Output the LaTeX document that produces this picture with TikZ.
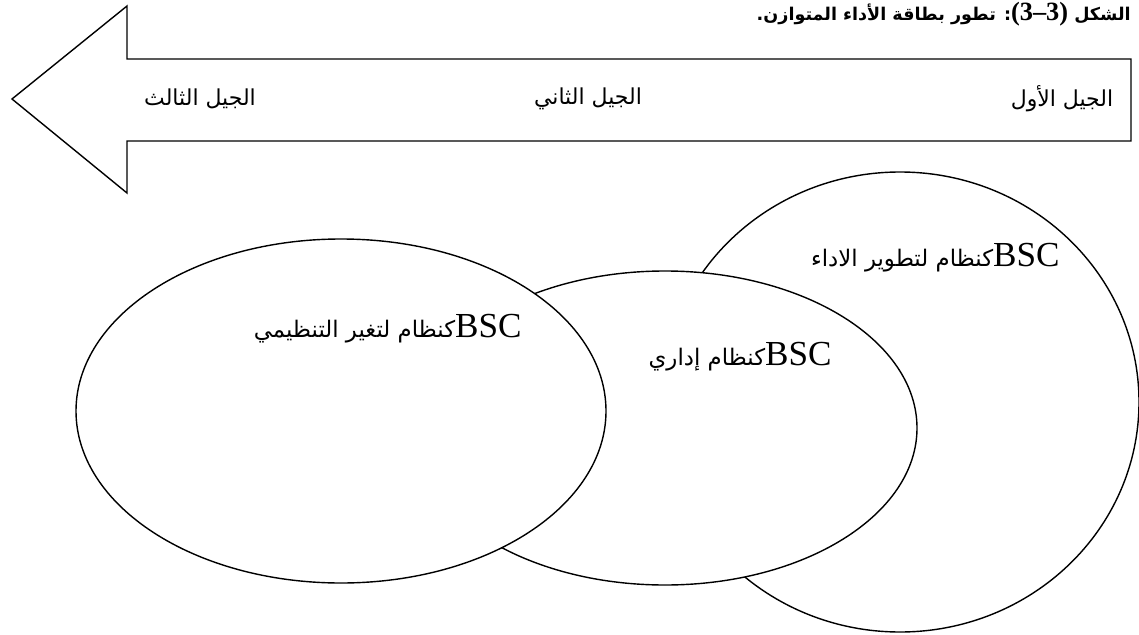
\documentclass[tikz,border=0pt]{standalone}
\usepackage{fontspec}
\newfontfamily\arabicfont[Script=Arabic]{DejaVu Sans}
\newfontfamily\latinfont{Liberation Serif}
\TeXXeTstate=1
\begin{document}
\begin{tikzpicture}[x=0.02cm,y=-0.02cm,
  gentext/.style={font=\arabicfont\fontsize{12.5}{14}\selectfont, inner sep=0pt},
  bsctext/.style={font=\arabicfont\fontsize{13}{15}\selectfont, inner sep=0pt, anchor=base east},
  zone/.style={draw, fill=white, line width=0.8pt}]
\useasboundingbox (0,0) rectangle (1139,635);
\node[font=\arabicfont\bfseries\fontsize{10}{12}\selectfont, inner sep=0pt, anchor=base east] (title) at (1131,21) {\beginR الشكل \beginL{\latinfont\bfseries\fontsize{15}{16}\selectfont(3–3)}\endL: تطور بطاقة الأداء المتوازن\kern0pt.\endR};
% the arrow of generations
\draw[line width=0.8pt] (1131,59) -- (127,59) -- (127,6) -- (12,99) -- (127,193) -- (127,141) -- (1131,141) -- cycle;
\node[gentext] (g1) at (1062,99) {\beginR الجيل الأول\endR};
\node[gentext] (g2) at (588,99) {\beginR الجيل الثاني\endR};
\node[gentext] (g3) at (200,99) {\beginR الجيل الثالث\endR};
% the three ellipses
\draw[zone] (900,402) ellipse [x radius=239, y radius=230];
\draw[zone] (665,428) ellipse [x radius=252, y radius=157];
\draw[zone] (341,411) ellipse [x radius=265, y radius=172];
\node[bsctext] (e1) at (1060,266) {\beginR\beginL{\latinfont\fontsize{20}{22}\selectfont BSC}\endL كنظام لتطوير الاداء\endR};
\node[bsctext] (e2) at (522,337) {\beginR\beginL{\latinfont\fontsize{20}{22}\selectfont BSC}\endL كنظام لتغير التنظيمي\endR};
\node[bsctext] (e3) at (832,365) {\beginR\beginL{\latinfont\fontsize{20}{22}\selectfont BSC}\endL كنظام إداري\endR};
\end{tikzpicture}
\end{document}
